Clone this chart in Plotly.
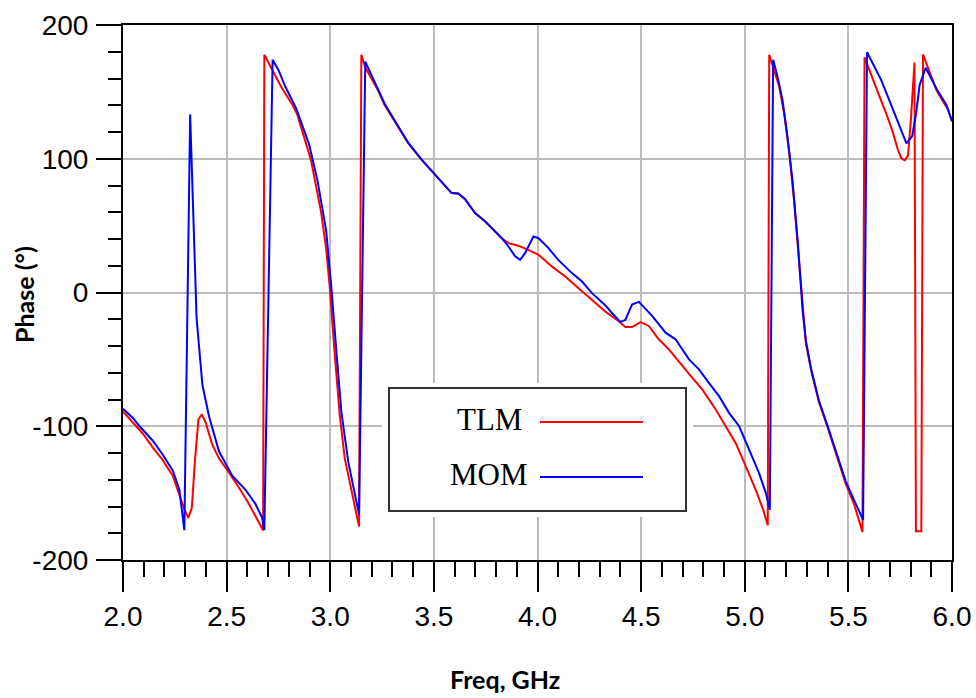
import plotly.graph_objects as go

# TLM phase response (deg) versus frequency (GHz)
tlm_freq = [
    2.000, 2.048, 2.096, 2.144, 2.190, 2.240, 2.270, 2.296, 2.315, 2.332,
    2.348, 2.364, 2.380, 2.400, 2.430, 2.463, 2.510, 2.560, 2.607, 2.655,
    2.676, 2.682, 2.719, 2.767, 2.815, 2.841, 2.907, 2.956, 2.980, 2.997,
    3.021, 3.046, 3.070, 3.103, 3.139, 3.150, 3.170, 3.231, 3.263, 3.327,
    3.376, 3.440, 3.505, 3.537, 3.585, 3.618, 3.650, 3.698, 3.747, 3.779,
    3.827, 3.860, 3.908, 3.956, 4.005, 4.069, 4.134, 4.198, 4.263, 4.327,
    4.392, 4.424, 4.456, 4.497, 4.537, 4.585, 4.634, 4.698, 4.747, 4.795,
    4.860, 4.908, 4.956, 5.005, 5.053, 5.089, 5.111, 5.118, 5.142, 5.166,
    5.190, 5.215, 5.239, 5.263, 5.280, 5.295, 5.320, 5.358, 5.398, 5.439,
    5.487, 5.527, 5.568, 5.578, 5.618, 5.650, 5.682, 5.712, 5.739, 5.755,
    5.772, 5.788, 5.802, 5.811, 5.819, 5.826, 5.852, 5.860, 5.892, 5.924,
    5.956, 5.980, 6.000,
]
tlm_phase = [
    -89.0, -97.7, -105.6, -116.0, -125.0, -137.0, -150.0, -162.0, -168.5, -161.0,
    -124.0, -95.0, -91.0, -97.7, -113.4, -124.0, -134.4, -146.0, -158.0, -171.0,
    -177.7, 177.7, 167.0, 152.8, 141.0, 133.0, 99.0, 60.0, 33.0, 5.0,
    -45.0, -92.0, -124.0, -147.5, -175.0, 177.7, 168.0, 151.0, 140.0, 124.0,
    111.7, 99.3, 88.0, 82.3, 74.3, 73.8, 69.8, 59.4, 53.1, 48.1,
    40.6, 36.9, 34.9, 31.9, 28.2, 19.5, 12.0, 3.2, -5.5, -14.2,
    -21.5, -25.8, -25.8, -22.2, -25.0, -35.0, -42.5, -55.0, -63.8, -72.5,
    -87.5, -100.0, -112.5, -130.0, -147.5, -162.5, -174.0, 177.8, 166.6, 154.0,
    134.0, 104.0, 67.0, 20.0, -15.0, -38.0, -58.0, -82.0, -100.0, -120.0,
    -143.0, -158.0, -179.0, 175.8, 159.0, 146.6, 134.0, 121.0, 106.7, 100.5,
    98.8, 102.5, 130.0, 154.0, 172.0, -178.5, -178.5, 178.0, 164.0, 151.6,
    143.0, 137.0, 128.0,
]

# MOM phase response (deg) versus frequency (GHz)
mom_freq = [
    2.000, 2.048, 2.080, 2.144, 2.192, 2.240, 2.272, 2.296, 2.324, 2.355,
    2.383, 2.415, 2.463, 2.527, 2.591, 2.639, 2.671, 2.682, 2.722, 2.751,
    2.783, 2.836, 2.898, 2.939, 2.980, 3.005, 3.030, 3.054, 3.087, 3.120,
    3.139, 3.169, 3.231, 3.263, 3.327, 3.376, 3.440, 3.505, 3.537, 3.585,
    3.618, 3.650, 3.698, 3.747, 3.779, 3.827, 3.860, 3.892, 3.916, 3.940,
    3.980, 4.005, 4.053, 4.100, 4.166, 4.215, 4.263, 4.327, 4.360, 4.400,
    4.424, 4.456, 4.489, 4.553, 4.618, 4.666, 4.731, 4.779, 4.827, 4.876,
    4.924, 4.973, 5.021, 5.069, 5.102, 5.121, 5.137, 5.158, 5.182, 5.206,
    5.230, 5.255, 5.280, 5.295, 5.320, 5.358, 5.398, 5.439, 5.487, 5.527,
    5.571, 5.590, 5.626, 5.658, 5.690, 5.723, 5.755, 5.780, 5.808, 5.827,
    5.844, 5.873, 5.900, 5.932, 5.973, 6.000,
]
mom_phase = [
    -87.0, -93.8, -100.0, -110.8, -121.3, -133.0, -147.5, -177.7, 133.0, -19.0,
    -69.0, -92.5, -118.7, -137.0, -147.5, -158.0, -168.5, -177.7, 174.0, 166.0,
    154.0, 137.5, 110.8, 83.3, 46.6, 4.6, -45.0, -89.8, -126.6, -152.8,
    -166.0, 172.5, 152.0, 141.0, 124.5, 112.0, 99.5, 88.3, 82.5, 74.5,
    74.0, 70.0, 59.6, 53.3, 48.3, 40.8, 34.4, 27.0, 24.4, 29.4,
    41.9, 40.6, 33.2, 24.4, 14.5, 8.2, -0.5, -9.5, -15.5, -22.0,
    -20.5, -9.0, -7.0, -17.5, -30.0, -35.0, -50.0, -57.5, -67.5, -77.5,
    -90.0, -100.0, -117.5, -135.0, -150.0, -162.5, 174.0, 161.6, 144.0, 116.7,
    84.3, 39.4, -15.0, -36.0, -57.0, -81.0, -99.0, -119.0, -141.0, -155.0,
    -170.0, 179.6, 169.0, 159.0, 146.6, 134.0, 121.7, 111.5, 117.0, 134.0,
    155.4, 168.0, 160.0, 150.4, 140.4, 128.0,
]

x_tick_vals = [2.0, 2.5, 3.0, 3.5, 4.0, 4.5, 5.0, 5.5, 6.0]
x_tick_text = ["2.0", "2.5", "3.0", "3.5", "4.0", "4.5", "5.0", "5.5", "6.0"]
y_tick_vals = [-200, -100, 0, 100, 200]
y_tick_text = ["-200", "-100", "0", "100", "200"]

series_names = ["TLM", "MOM"]
series_colors = ["#ff0000", "#0000ff"]

W, H = 976, 698
L, R, T, B = 123, 24, 25, 138
PW, PH = W - L - R, H - T - B


def px_x(px):
    return (px - L) / PW


def px_y(py):
    return (H - B - py) / PH


fig = go.Figure()
for name, fx, fy, col in zip(series_names, [tlm_freq, mom_freq],
                             [tlm_phase, mom_phase], series_colors):
    fig.add_trace(go.Scatter(x=fx, y=fy, mode="lines", name=name,
                             line=dict(color=col, width=2), showlegend=False))

tick_font = dict(family="Liberation Sans, Arial, sans-serif", size=28, color="black")
grid_col = "#bdbdbd"

fig.update_layout(
    width=W, height=H,
    margin=dict(l=L, r=R, t=T, b=B, pad=0),
    paper_bgcolor="white", plot_bgcolor="white",
    xaxis=dict(
        range=[2, 6], tickvals=x_tick_vals, ticktext=x_tick_text,
        ticks="outside", ticklen=30, tickwidth=2, tickcolor="black",
        showline=True, linecolor="black", linewidth=2, mirror=True,
        showgrid=True, gridcolor=grid_col, gridwidth=2, zeroline=False,
        tickfont=tick_font, ticklabelstandoff=0, automargin=False,
        minor=dict(dtick=0.1, tick0=2.0, ticks="outside", ticklen=15,
                   tickwidth=2, tickcolor="black", showgrid=False),
    ),
    yaxis=dict(
        range=[-200, 200], tickvals=y_tick_vals, ticktext=y_tick_text,
        ticks="outside", ticklen=25, tickwidth=2, tickcolor="black",
        showline=True, linecolor="black", linewidth=2, mirror=True,
        showgrid=True, gridcolor=grid_col, gridwidth=2, zeroline=False,
        tickfont=tick_font, ticklabelstandoff=2, automargin=False,
        minor=dict(dtick=20, tick0=-200, ticks="outside", ticklen=13,
                   tickwidth=2, tickcolor="black", showgrid=False),
    ),
)

title_font = dict(family="Lato, Open Sans, sans-serif", size=25, color="black")
fig.add_annotation(text="<b>Freq, GHz</b>", xref="paper", yref="paper",
                   x=px_x(505), y=px_y(679), showarrow=False, font=title_font,
                   xanchor="center", yanchor="middle")
fig.add_annotation(text="<b>Phase (°)</b>", xref="paper", yref="paper",
                   x=px_x(24), y=px_y(295), showarrow=False, font=title_font,
                   textangle=-90, xanchor="center", yanchor="middle")

# legend panel: white backing, framed box, labels and line samples
fig.add_shape(type="rect", xref="paper", yref="paper",
              x0=px_x(382), x1=px_x(693), y0=px_y(517), y1=px_y(383),
              fillcolor="white", line=dict(width=0), layer="above")
fig.add_shape(type="rect", xref="paper", yref="paper",
              x0=px_x(389), x1=px_x(686), y0=px_y(511), y1=px_y(388),
              fillcolor="white", line=dict(color="#333333", width=2), layer="above")
legend_font = dict(family="Liberation Serif, Times New Roman, serif", size=31, color="black")
for name, col, ly in zip(series_names, series_colors, [422, 477]):
    fig.add_annotation(text=name, xref="paper", yref="paper",
                       x=px_x(489), y=px_y(ly - 3), showarrow=False,
                       font=legend_font, xanchor="center", yanchor="middle")
    fig.add_shape(type="line", xref="paper", yref="paper",
                  x0=px_x(540), x1=px_x(643), y0=px_y(ly), y1=px_y(ly),
                  line=dict(color=col, width=2), layer="above")

fig.write_html("out.html")
